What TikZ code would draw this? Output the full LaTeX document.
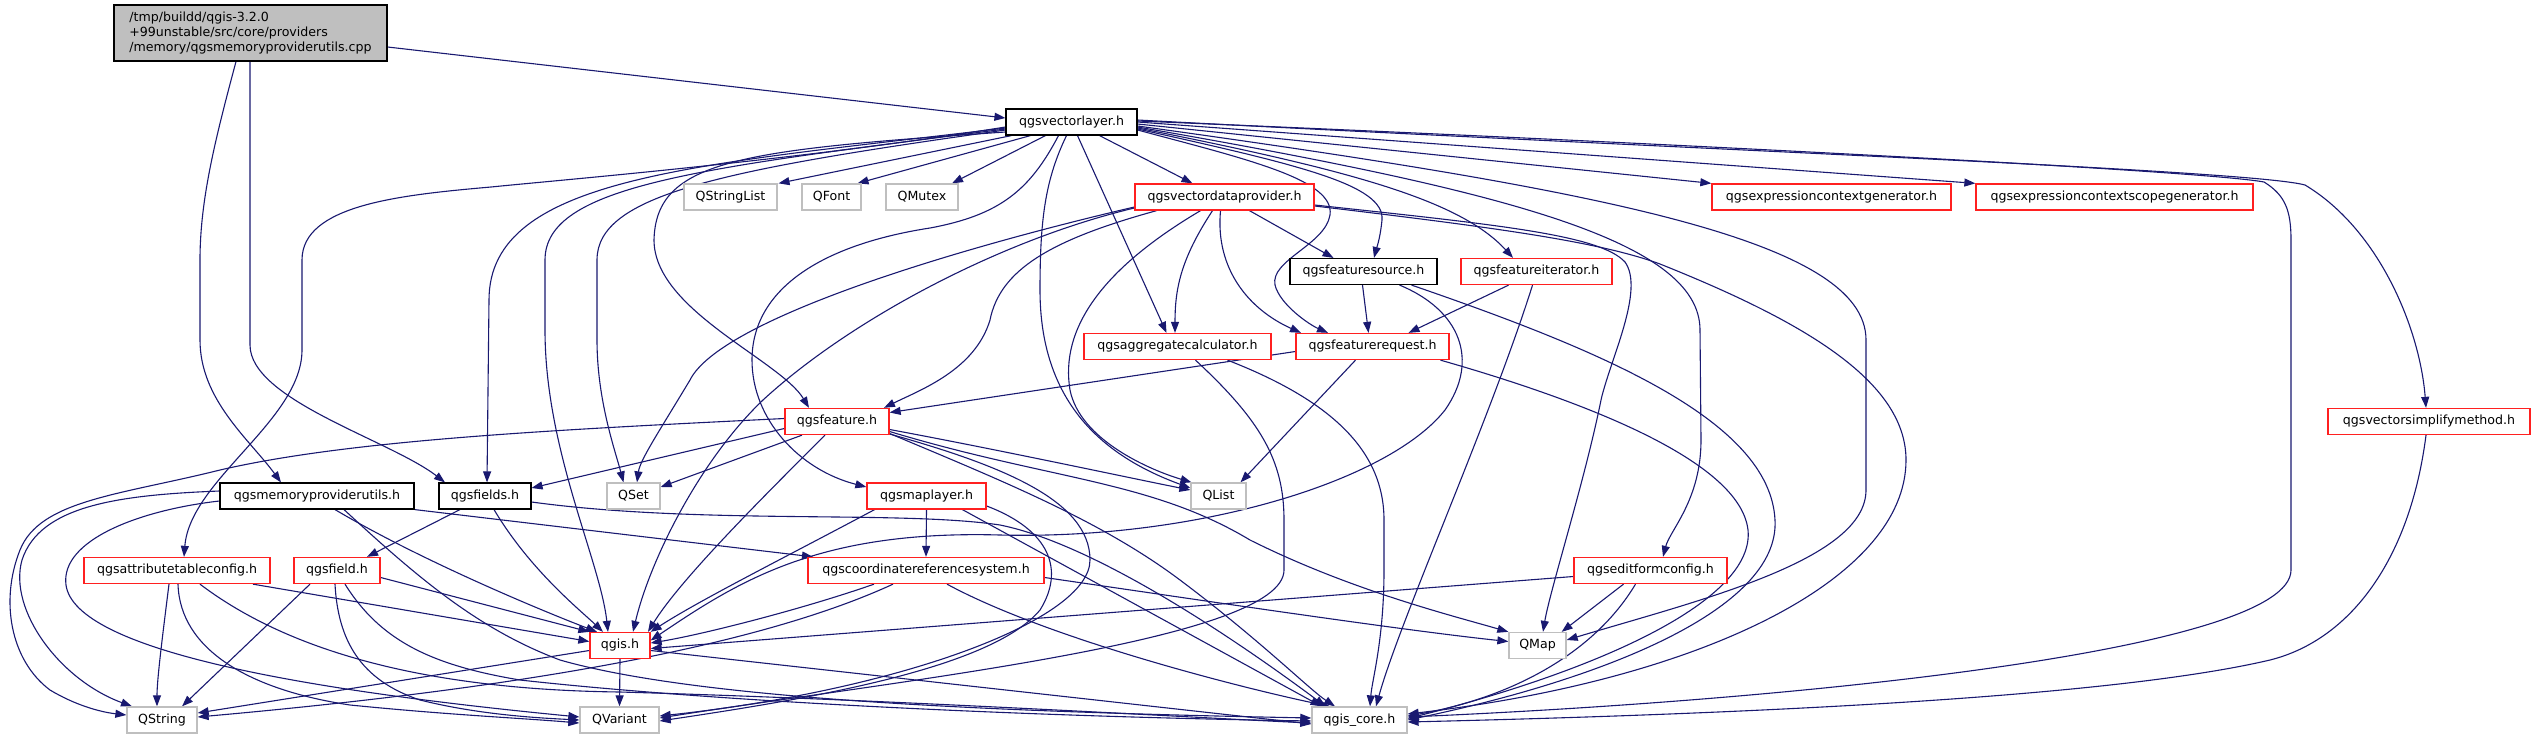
\documentclass[tikz,border=0pt]{standalone}
\usepackage{fontspec}
\usetikzlibrary{arrows.meta}
\newfontfamily\dvs{DejaVu Sans}
\definecolor{edgec}{HTML}{191970}
\definecolor{boxred}{HTML}{FF2020}
\definecolor{boxgray}{HTML}{BFBFBF}
\pgfdeclarelayer{edges}
\pgfsetlayers{edges,main}
\tikzset{
  box/.style={draw, line width=1.3pt, minimum height=26, inner sep=0pt, fill=white, text=black,
    font=\dvs\fontsize{12.6}{15}\selectfont},
  redbox/.style={box, draw=boxred},
  graybox/.style={box, draw=boxgray},
  blackbox/.style={box, draw=black, line width=1.15pt},
  e/.style={draw=edgec, line width=1.1pt, -{Triangle[length=11pt,width=8pt]}}
}
\begin{document}
\begin{tikzpicture}[x=1pt,y=-1pt]
\path[use as bounding box] (0,0) rectangle (2535,739);
% nodes
\node[box, draw=black, line width=1.15pt, fill=boxgray, minimum width=273, minimum height=56, align=left] (root) at (250.5,33)
  {/tmp/buildd/qgis-3.2.0\\+99unstable/src/core/providers\\/memory/qgsmemoryproviderutils.cpp};
\node[blackbox, minimum width=131] (vl) at (1071.5,122) {qgsvectorlayer.h};
\node[graybox, minimum width=93] (qsl) at (730.5,197) {QStringList};
\node[graybox, minimum width=59] (qfont) at (831.5,197) {QFont};
\node[graybox, minimum width=72] (qmutex) at (922,197) {QMutex};
\node[redbox, minimum width=179] (vdp) at (1224.5,197) {qgsvectordataprovider.h};
\node[redbox, minimum width=239] (ecg) at (1831.5,197) {qgsexpressioncontextgenerator.h};
\node[redbox, minimum width=277] (ecsg) at (2114.5,197) {qgsexpressioncontextscopegenerator.h};
\node[blackbox, minimum width=147] (fsrc) at (1363.5,271.5) {qgsfeaturesource.h};
\node[redbox, minimum width=151] (fit) at (1536.5,271.5) {qgsfeatureiterator.h};
\node[redbox, minimum width=187] (aggc) at (1177.5,346.5) {qgsaggregatecalculator.h};
\node[redbox, minimum width=153] (freq) at (1372.5,346.5) {qgsfeaturerequest.h};
\node[redbox, minimum width=104] (feat) at (837,421.5) {qgsfeature.h};
\node[redbox, minimum width=202] (vsm) at (2429,421.5) {qgsvectorsimplifymethod.h};
\node[blackbox, minimum width=194] (memu) at (317,496) {qgsmemoryproviderutils.h};
\node[blackbox, minimum width=92] (fields) at (485,496) {qgsfields.h};
\node[graybox, minimum width=53] (qset) at (633.5,496) {QSet};
\node[redbox, minimum width=119] (maplayer) at (926.5,496) {qgsmaplayer.h};
\node[graybox, minimum width=55] (qlist) at (1218.5,496) {QList};
\node[redbox, minimum width=186] (attr) at (177,570.5) {qgsattributetableconfig.h};
\node[redbox, minimum width=86] (field) at (337,570.5) {qgsfield.h};
\node[redbox, minimum width=236] (crs) at (926,570.5) {qgscoordinatereferencesystem.h};
\node[redbox, minimum width=153] (efc) at (1650.5,570.5) {qgseditformconfig.h};
\node[redbox, minimum width=60] (qgis) at (620,645.5) {qgis.h};
\node[graybox, minimum width=57] (qmap) at (1537.5,645.5) {QMap};
\node[graybox, minimum width=70] (qstring) at (162,720) {QString};
\node[graybox, minimum width=79] (qvariant) at (619.5,720) {QVariant};
\node[graybox, minimum width=95] (core) at (1359.5,720) {qgis\_core.h};
\begin{pgfonlayer}{edges}
% root edges
\draw[e] ([yshift=-14]root.east) -- ([yshift=4]vl.west);
\draw[e] ([xshift=-14.5]root.south) .. controls (215,140) and (200,200) .. (200,260) -- (200,340) .. controls (200,400) and (250,440) .. ([xshift=-36]memu.north);
\draw[e] ([xshift=-0.5]root.south) -- (250,345) .. controls (250,400) and (390,440) .. ([xshift=-40]fields.north);
% vl left
\draw[e] ([yshift=-5]vl.west) .. controls (800,160) and (560,180) .. (491,187) .. controls (400,195) and (302,205) .. (302,260) -- (302,350) .. controls (302,420) and (190,480) .. ([xshift=7]attr.north);
\draw[e] ([yshift=-6]vl.west) .. controls (700,165) and (489,175) .. (489,300) -- ([xshift=2]fields.north);
\draw[e] ([yshift=-7]vl.west) .. controls (700,168) and (545,185) .. (545,260) -- (545,330) .. controls (545,450) and (600,560) .. ([xshift=-12]qgis.north);
\draw[e] ([yshift=-8]vl.west) .. controls (720,170) and (597,195) .. (597,260) -- (597,340) .. controls (597,400) and (615,450) .. ([xshift=-10]qset.north);
\draw[e] ([yshift=-10]vl.west) .. controls (740,150) and (656,160) .. (654,240) .. controls (654,310) and (780,360) .. ([xshift=-28]feat.north);
% vl bottom
\draw[e] ([xshift=-60]vl.south) -- ([xshift=48]qsl.north);
\draw[e] ([xshift=-41]vl.south) -- ([xshift=26]qfont.north);
\draw[e] ([xshift=-26]vl.south) -- ([xshift=30]qmutex.north);
\draw[e] ([xshift=-13]vl.south) .. controls (1030,190) and (1000,215) .. (930,228) .. controls (820,245) and (752,290) .. (752,360) .. controls (752,420) and (800,470) .. ([yshift=9]maplayer.west);
\draw[e] ([xshift=-5]vl.south) .. controls (1045,180) and (1040,220) .. (1040,290) .. controls (1040,400) and (1100,455) .. ([yshift=8]qlist.west);
\draw[e] ([xshift=6]vl.south) -- ([xshift=-11]aggc.north);
\draw[e] ([xshift=28]vl.south) -- ([xshift=-32]vdp.north);
% vl right
\draw[e] ([yshift=-8]vl.east) .. controls (1250,160) and (1335,180) .. (1330,215) .. controls (1325,245) and (1270,260) .. (1275,285) .. controls (1280,305) and (1310,325) .. ([xshift=-44.5]freq.north);
\draw[e] ([yshift=-7]vl.east) .. controls (1300,165) and (1385,185) .. (1382,220) .. controls (1380,240) and (1376,250) .. ([xshift=10.5]fsrc.north);
\draw[e] ([yshift=-6]vl.east) .. controls (1350,170) and (1460,200) .. ([xshift=-23.5]fit.north);
\draw[e] ([yshift=-5]vl.east) .. controls (1500,190) and (1700,240) .. (1700,330) -- (1701,440) .. controls (1701,500) and (1670,530) .. ([xshift=12.5]efc.north);
\draw[e] ([yshift=-4]vl.east) .. controls (1600,190) and (1866,240) .. (1866,340) -- (1866,490) .. controls (1866,560) and (1700,600) .. ([yshift=5.5]qmap.east);
\draw[e] ([yshift=-2]vl.east) -- (ecg.north west);
\draw[e] ([yshift=0]vl.east) -- (ecsg.north west);
\draw[e] ([yshift=1]vl.east) .. controls (1600,140) and (2200,170) .. (2264,182) .. controls (2285,195) and (2291,210) .. (2291,240) -- (2291,570) .. controls (2291,650) and (1800,700) .. ([yshift=3]core.east);
\draw[e] ([yshift=2]vl.east) .. controls (1700,150) and (2250,170) .. (2305,185) .. controls (2380,230) and (2420,330) .. ([xshift=-3]vsm.north);
\draw[e] ([xshift=-3]vsm.south) .. controls (2410,560) and (2350,640) .. (2270,660) .. controls (2100,700) and (1700,715) .. ([yshift=-2]core.east);
% vdp
\draw[e] ([xshift=25]vdp.south) -- ([xshift=-30]fsrc.north);
\draw[e] ([xshift=-4]vdp.south) .. controls (1215,270) and (1250,310) .. ([xshift=-71.5]freq.north);
\draw[e] ([xshift=-12]vdp.south) .. controls (1180,260) and (1175,290) .. ([xshift=-2.5]aggc.north);
\draw[e] ([xshift=-68]vdp.south) .. controls (1050,240) and (1000,270) .. (990,320) .. controls (975,370) and (920,390) .. ([xshift=47]feat.north);
\draw[e] ([xshift=-24]vdp.south) .. controls (1100,270) and (1060,330) .. (1070,390) .. controls (1080,440) and (1150,470) .. ([xshift=-27]qlist.north);
\draw[e] ([yshift=-10]vdp.west) .. controls (950,250) and (720,320) .. (690,380) .. controls (660,430) and (640,460) .. ([xshift=3.5]qset.north);
\draw[e] ([yshift=-11]vdp.west) .. controls (1000,240) and (850,320) .. (763,400) .. controls (700,460) and (650,560) .. ([xshift=13]qgis.north);
\draw[e] ([yshift=-8]vdp.east) .. controls (1500,225) and (1600,235) .. (1625,262) .. controls (1645,290) and (1610,360) .. (1601,400) .. controls (1585,480) and (1550,590) .. ([xshift=5.5]qmap.north);
\draw[e] ([yshift=-9]vdp.east) .. controls (1500,228) and (1600,242) .. (1660,264) .. controls (1800,320) and (1906,380) .. (1906,460) .. controls (1906,580) and (1700,680) .. ([yshift=6]core.east);
% fsrc
\draw[e] ([xshift=-1]fsrc.south) -- ([xshift=-4]freq.north);
\draw[e] ([xshift=36]fsrc.south) .. controls (1460,310) and (1480,360) .. (1445,410) .. controls (1390,480) and (1200,540) .. (1000,535) .. controls (820,530) and (740,580) .. ([yshift=5]qgis.east);
\draw[e] ([xshift=48]fsrc.south) .. controls (1600,350) and (1770,420) .. (1775,520) .. controls (1780,610) and (1600,680) .. (core.east);
% fit
\draw[e] ([xshift=-28]fit.south) -- ([xshift=36]freq.north);
\draw[e] ([xshift=-4]fit.south) .. controls (1490,420) and (1400,620) .. ([xshift=16.5]core.north);
% freq
\draw[e] ([xshift=68]freq.south) .. controls (1580,400) and (1740,460) .. (1748,530) .. controls (1755,600) and (1600,670) .. ([yshift=1.5]core.east);
\draw[e] ([yshift=-5]freq.west) -- ([yshift=9]feat.east);
\draw[e] ([xshift=-17]freq.south) -- ([xshift=22]qlist.north);
% aggc
\draw[e] ([xshift=18]aggc.south) .. controls (1260,420) and (1284,460) .. (1284,520) -- (1284,570) .. controls (1284,640) and (900,680) .. ([yshift=2]qvariant.east);
\draw[e] ([xshift=50]aggc.south) .. controls (1330,400) and (1384,450) .. (1384,520) -- (1384,570) .. controls (1384,640) and (1372,680) .. ([xshift=10.5]core.north);
% feat
\draw[e] ([yshift=3]feat.west) .. controls (550,430) and (350,440) .. (220,470) .. controls (120,495) and (40,500) .. (20,550) .. controls (0,600) and (10,660) .. (50,690) .. controls (75,705) and (100,712) .. ([yshift=5]qstring.west);
\draw[e] ([yshift=-7]feat.west) -- ([yshift=8]fields.east);
\draw[e] ([xshift=-35]feat.south) -- ([yshift=9]qset.east);
\draw[e] ([yshift=-8]feat.east) .. controls (1000,450) and (1130,478) .. ([yshift=6]qlist.west);
\draw[e] ([yshift=-10]feat.east) .. controls (1050,480) and (1150,480) .. (1250,540) .. controls (1350,590) and (1450,615) .. (qmap.north west);
\draw[e] ([yshift=-12]feat.east) .. controls (1000,480) and (1100,520) .. (1180,580) .. controls (1260,640) and (1310,690) .. ([xshift=-24.5]core.north);
\draw[e] ([xshift=-12]feat.south) .. controls (760,500) and (680,580) .. ([xshift=28]qgis.north);
\draw[e] ([yshift=-12.5]feat.east) .. controls (1000,465) and (1090,500) .. (1090,560) .. controls (1090,620) and (900,690) .. ([yshift=4]qvariant.east);
% maplayer
\draw[e] (maplayer.south) -- (crs.north);
\draw[e] ([xshift=-52]maplayer.south) .. controls (780,560) and (700,600) .. (qgis.north east);
\draw[e] ([xshift=36]maplayer.south) -- ([xshift=-38]core.north);
\draw[e] ([yshift=-10]maplayer.east) .. controls (1050,530) and (1065,570) .. (1040,610) .. controls (990,670) and (800,700) .. ([yshift=-1]qvariant.east);
% crs
\draw[e] ([xshift=-52]crs.south) .. controls (800,610) and (700,635) .. ([yshift=2.5]qgis.east);
\draw[e] ([xshift=-33]crs.south) .. controls (750,650) and (500,690) .. ([yshift=3]qstring.east);
\draw[e] ([yshift=-7]crs.east) .. controls (1200,600) and (1400,630) .. ([yshift=4]qmap.west);
\draw[e] ([xshift=21]crs.south) .. controls (1050,640) and (1250,690) .. ([xshift=-29.5]core.north);
% memu
\draw[e] ([yshift=5]memu.west) .. controls (120,495) and (40,505) .. (22,560) .. controls (8,610) and (60,680) .. ([xshift=-30]qstring.north);
\draw[e] ([yshift=-5]memu.west) .. controls (140,510) and (60,540) .. (66,585) .. controls (75,650) and (300,690) .. ([yshift=3]qvariant.west);
\draw[e] ([xshift=18]memu.south) .. controls (420,560) and (540,610) .. ([xshift=-23]qgis.north);
\draw[e] ([xshift=27]memu.south) .. controls (420,580) and (480,630) .. (560,660) .. controls (700,700) and (1000,712) .. ([yshift=2]core.west);
\draw[e] (memu.south east) -- ([xshift=-113]crs.north);
% fields
\draw[e] ([xshift=-25]fields.south) -- ([xshift=30]field.north);
\draw[e] ([xshift=9]fields.south) .. controls (530,570) and (580,610) .. ([xshift=-17]qgis.north);
\draw[e] ([yshift=-6]fields.east) .. controls (700,525) and (900,510) .. (1000,525) .. controls (1100,545) and (1250,650) .. ([xshift=-34]core.north);
% field
\draw[e] ([xshift=-27]field.south) -- ([xshift=20]qstring.north);
\draw[e] ([xshift=-2]field.south) .. controls (338,640) and (360,680) .. (420,700) .. controls (480,715) and (540,718) .. (qvariant.west);
\draw[e] ([yshift=-7]field.east) -- (qgis.north west);
\draw[e] ([xshift=8]field.south) .. controls (380,640) and (430,665) .. (520,680) .. controls (700,700) and (1000,716) .. ([yshift=-1]core.west);
% attr
\draw[e] ([xshift=-8]attr.south) .. controls (162,640) and (157,680) .. ([xshift=-5]qstring.north);
\draw[e] ([xshift=1]attr.south) .. controls (180,650) and (250,690) .. (350,705) .. controls (450,715) and (520,718) .. ([yshift=-3]qvariant.west);
\draw[e] ([xshift=76]attr.south) -- ([yshift=4]qgis.west);
\draw[e] ([xshift=23]attr.south) .. controls (300,660) and (450,690) .. (620,692) .. controls (900,700) and (1200,718) .. ([yshift=-3]core.west);
% efc
\draw[e] ([yshift=-6]efc.west) -- ([yshift=-3]qgis.east);
\draw[e] ([xshift=-27]efc.south) -- ([xshift=-5]qmap.north east);
\draw[e] ([xshift=-15]efc.south) .. controls (1590,660) and (1500,700) .. ([yshift=4]core.east);
% qgis
\draw[e] ([yshift=-5]qgis.west) -- ([yshift=7]qstring.east);
\draw[e] (qgis.south) -- (qvariant.north);
\draw[e] ([yshift=-5]qgis.east) -- ([yshift=-4]core.west);
\end{pgfonlayer}
\end{tikzpicture}
\end{document}
